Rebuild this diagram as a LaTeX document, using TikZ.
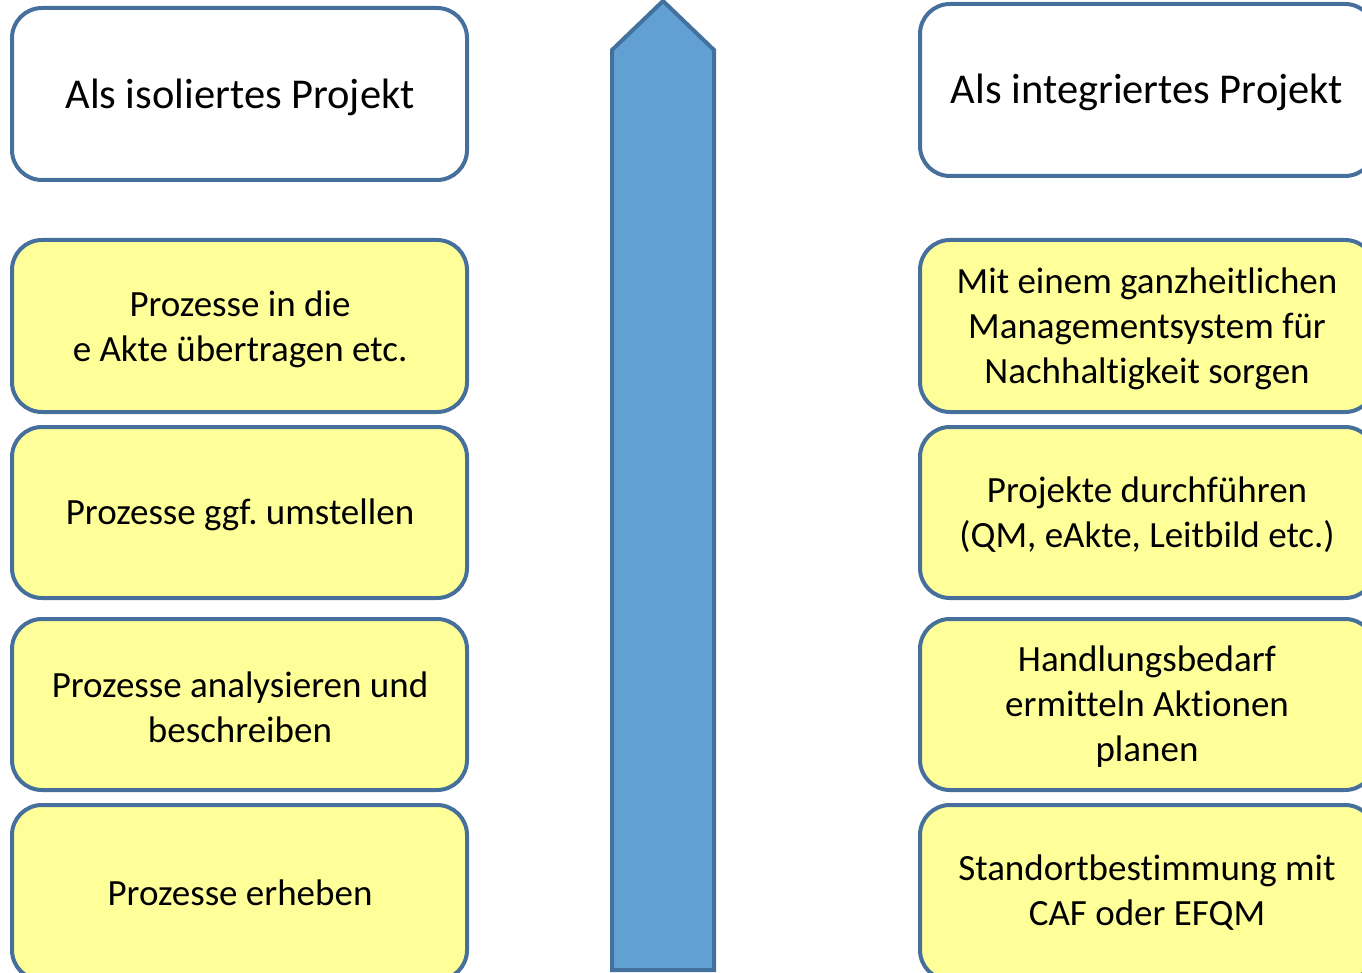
\documentclass[tikz,border=0pt]{standalone}
\usepackage{fontspec}
\setmainfont{Carlito}[Ligatures=NoCommon]
\frenchspacing
\definecolor{boxline}{HTML}{46709B}
\definecolor{boxfill}{HTML}{FFFF99}
\definecolor{arrfill}{HTML}{629FD2}
\definecolor{arrline}{HTML}{41719C}
\begin{document}
\begin{tikzpicture}[x=1pt,y=-1pt,
  box/.style={draw=boxline,line width=4pt,rounded corners=30pt},
  titlebox/.style={box,fill=white},
  stepbox/.style={box,fill=boxfill},
  ttext/.style={align=center,font=\fontsize{42.5}{45}\selectfont\frenchspacing},
  stext/.style={align=center,font=\fontsize{37}{45}\selectfont\frenchspacing}]
\useasboundingbox (0,0) rectangle (1362,973);
\clip (0,0) rectangle (1362,973);
% left column
\draw[titlebox] (12,8) rectangle (467,180);
\node[ttext] (l1) at (240,97) {Als isoliertes Projekt};
\draw[stepbox] (12,240) rectangle (467,412);
\node[stext] (l2) at (240,329) {Prozesse in die\\e Akte übertragen etc.};
\draw[stepbox] (12,427) rectangle (467,598);
\node[stext] (l3) at (240,515) {Prozesse ggf. umstellen};
\draw[stepbox] (12,619) rectangle (467,790);
\node[stext] (l4) at (240,707) {Prozesse analysieren und\\beschreiben};
\draw[stepbox] (12,805) rectangle (467,980);
\node[stext] (l5) at (240,893) {Prozesse erheben};
% right column
\draw[titlebox] (920,4) rectangle (1375,176);
\node[ttext] (r1) at (1147,92) {Als integriertes Projekt};
\draw[stepbox] (920,240) rectangle (1375,412);
\node[stext] (r2) at (1147,329) {Mit einem ganzheitlichen\\Managementsystem für\\Nachhaltigkeit sorgen};
\draw[stepbox] (920,427) rectangle (1375,598);
\node[stext] (r3) at (1147,515) {Projekte durchführen\\(QM, eAkte, Leitbild etc.)};
\draw[stepbox] (920,619) rectangle (1375,790);
\node[stext] (r4) at (1147,707) {Handlungsbedarf\\ermitteln Aktionen\\planen};
\draw[stepbox] (920,805) rectangle (1375,980);
\node[stext] (r5) at (1147,893) {Standortbestimmung mit\\CAF oder EFQM};
% arrow
\draw[fill=arrfill,draw=arrline,line width=4pt,line join=miter]
  (612,970) -- (612,50) -- (663,1) -- (714,50) -- (714,970) -- cycle;
\end{tikzpicture}
\end{document}
